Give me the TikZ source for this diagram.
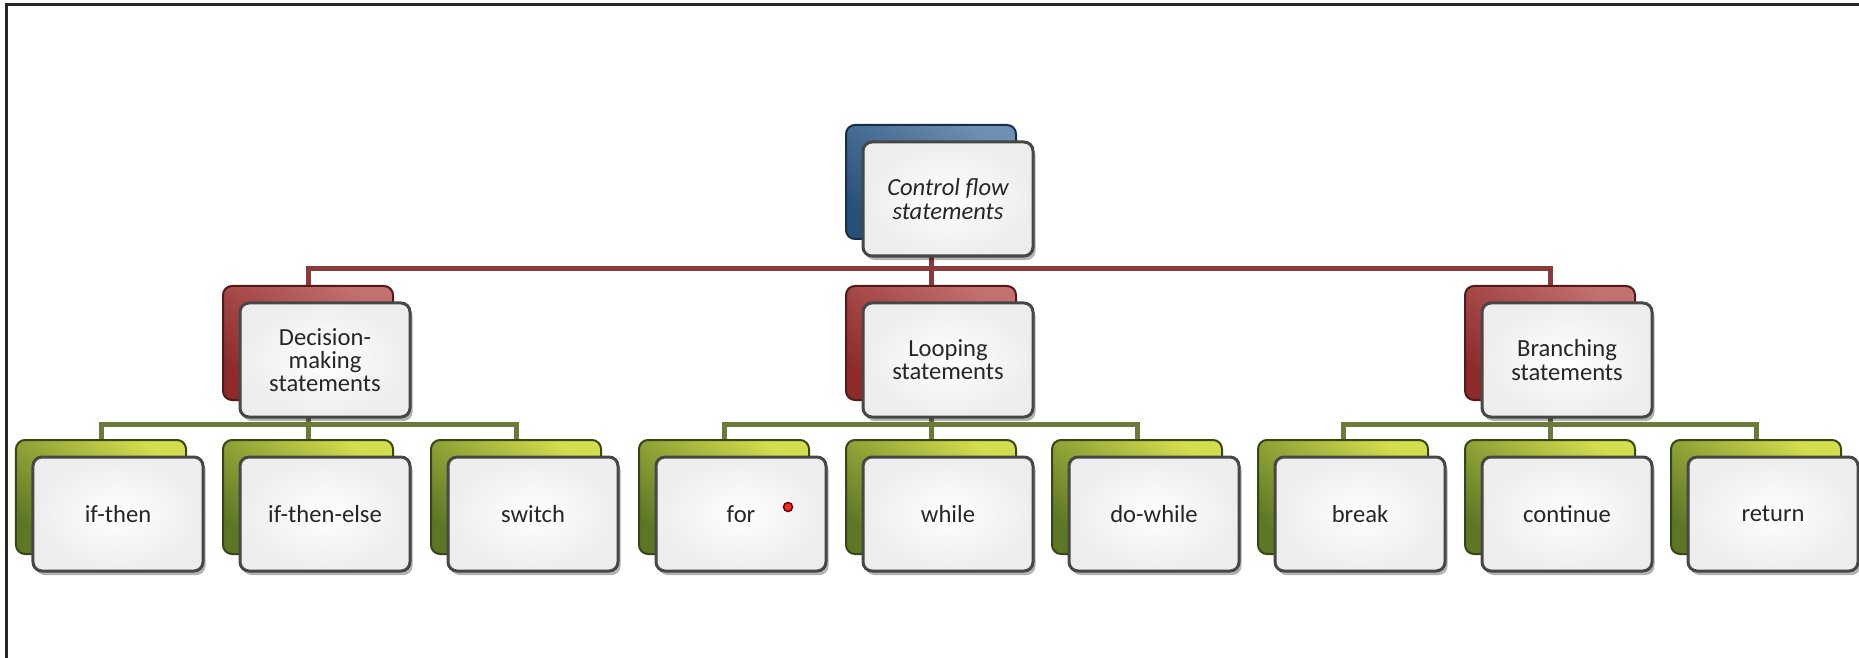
\documentclass[tikz,border=0pt]{standalone}
\usepackage{fontspec}
\setmainfont{Carlito}
\usetikzlibrary{positioning,backgrounds,shadows}

\definecolor{cfblue}{HTML}{2F5F8F}
\definecolor{cfred}{HTML}{A83232}
\definecolor{cfgreen}{HTML}{6E8C2C}
\definecolor{redwire}{HTML}{8A3A3A}
\definecolor{greenwire}{HTML}{6B7B3A}

\begin{document}
\begin{tikzpicture}[
    x=0.2mm, y=-0.2mm,
    font=\fontsize{14}{13.2}\selectfont,
    box/.style={draw=black!72, line width=0.6mm, rounded corners=1.8mm,
                minimum width=34mm, minimum height=22.8mm, align=center, inner sep=1mm,
                inner color=white, outer color=black!7, text=black!85,
                drop shadow={shadow xshift=0.5mm, shadow yshift=-0.8mm, fill=black, opacity=0.3}},
    back/.style={draw=#1!50!black, line width=0.4mm, rounded corners=1.8mm,
                 minimum width=34mm, minimum height=22.8mm,
                 top color=#1!70!white, bottom color=#1!85!black, shading angle=-40},
    rootback/.style={back=cfblue},
    groupback/.style={back=cfred},
    leafback/.style={back=cfgreen, top color=cfgreen!40!yellow!75!white,
                     bottom color=cfgreen!85!black, shading angle=-40},
    redflow/.style={draw=redwire, line width=1mm},
    greenflow/.style={draw=greenwire, line width=1mm},
    frame/.style={draw=black!85, line width=0.6mm},
    cursor/.style={circle, fill=red!85, draw=red!45!black, line width=0.3mm,
                   minimum size=1.8mm, inner sep=0pt},
]
\useasboundingbox (0,0) rectangle (1859,658);

% =====================  ROOT  =====================
\node[rootback] (topb) at (931,182) {};
\node[box, font=\fontsize{14}{13.2}\selectfont\itshape] (top) at (948,199) {Control flow\\statements};

% =====================  GROUPS  =====================
\node[groupback] (decb)    at (308,343)  {};
\node[box]       (dec)     at (325,360)  {Decision-\\making\\statements};
\node[groupback] (loopb)   at (931,343)  {};
\node[box]       (loop)    at (948,360)  {Looping\\statements};
\node[groupback] (branchb) at (1550,343) {};
\node[box]       (branch)  at (1567,360) {Branching\\statements};

% =====================  LEAVES  =====================
\node[leafback] (ifthenb)     at (101,497)  {};
\node[box]      (ifthen)      at (118,514)  {if-then};
\node[leafback] (ifthenelseb) at (308,497)  {};
\node[box]      (ifthenelse)  at (325,514)  {if-then-else};
\node[leafback] (switchb)     at (516,497)  {};
\node[box]      (switch)      at (533,514)  {switch};

\node[leafback] (forb)        at (724,497)  {};
\node[box]      (for)         at (741,514)  {for};
\node[leafback] (whileb)      at (931,497)  {};
\node[box]      (while)       at (948,514)  {while};
\node[leafback] (dowhileb)    at (1137,497) {};
\node[box]      (dowhile)     at (1154,514) {do-while};

\node[leafback] (breakb)      at (1343,497) {};
\node[box]      (break)       at (1360,514) {break};
\node[leafback] (continueb)   at (1550,497) {};
\node[box]      (continue)    at (1567,514) {continue};
\node[leafback] (returnb)     at (1756,497) {};
\node[box]      (return)      at (1773,514) {return};

% pointer mark left on the "for" box
\node[cursor] (click) at (788,507) {};

% =====================  CONNECTORS  =====================
\coordinate (rbus)  at (931,269);
\coordinate (gbus1) at (308,424);
\coordinate (gbus2) at (931,424);
\coordinate (gbus3) at (1550,424);

\begin{scope}[on background layer]
  \draw[redflow] (topb.center) -- (loopb.north);
  \draw[redflow] (decb.north) |- (rbus) -| (branchb.north);

  \draw[greenflow] (decb.center) -- (ifthenelseb.north);
  \draw[greenflow] (ifthenb.north) |- (gbus1) -| (switchb.north);
  \draw[greenflow] (loopb.center) -- (whileb.north);
  \draw[greenflow] (forb.north) |- (gbus2) -| (dowhileb.north);
  \draw[greenflow] (branchb.center) -- (continueb.north);
  \draw[greenflow] (breakb.north) |- (gbus3) -| (returnb.north);

  \fill[red!18] (click) circle[radius=10];
\end{scope}

% frame on the left and top edges
\draw[frame] (6,658) -- (6,5) -- (1859,5);

\end{tikzpicture}
\end{document}
